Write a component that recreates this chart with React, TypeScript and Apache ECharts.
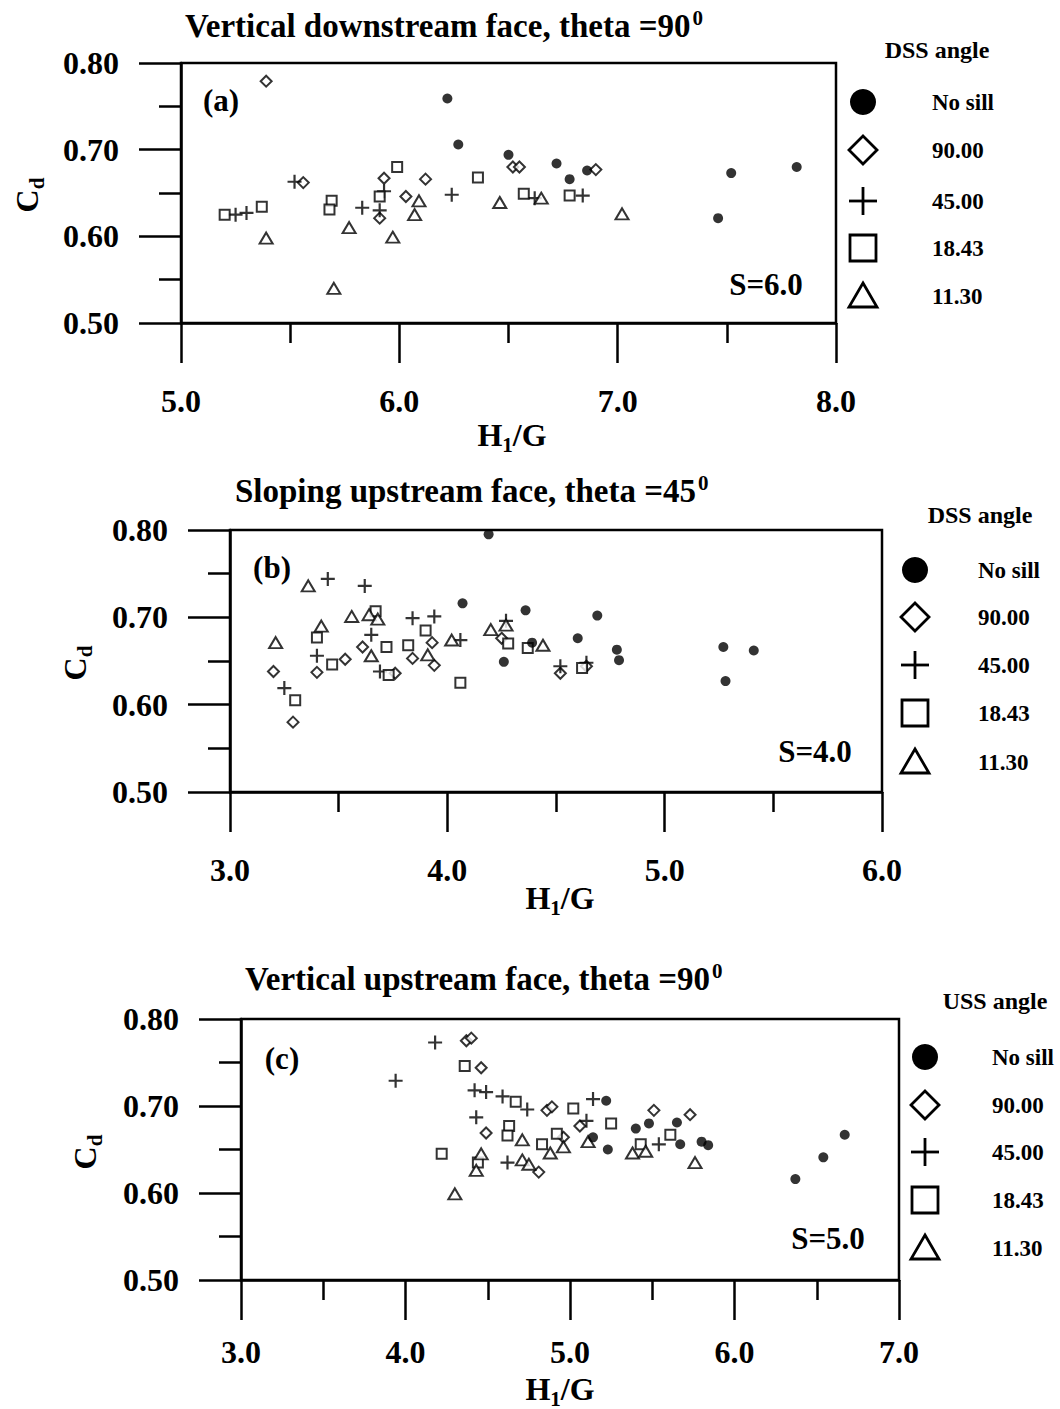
import React, { useEffect, useRef } from "react";
import * as echarts from "echarts";

const FONT = '"Liberation Serif","Times New Roman",serif';

// Legend labels (same order for all panels)
const seriesNames = ["No sill", "90.00", "45.00", "18.43", "11.30"];

// ---------- Panel (a): Vertical downstream face, theta = 90, S = 6.0 ----------
const aNoSill = [[6.22, 0.759], [6.27, 0.706], [6.50, 0.694], [6.72, 0.684], [6.78, 0.666], [6.86, 0.676], [7.46, 0.621], [7.52, 0.673], [7.82, 0.680]];
const aD90 = [[5.39, 0.779], [5.56, 0.662], [5.93, 0.667], [5.91, 0.621], [6.03, 0.646], [6.12, 0.666], [6.52, 0.680], [6.55, 0.680], [6.90, 0.677]];
const aD45 = [[5.25, 0.625], [5.30, 0.627], [5.52, 0.663], [5.83, 0.633], [5.93, 0.652], [5.91, 0.630], [6.24, 0.648], [6.62, 0.644], [6.84, 0.647]];
const aD18 = [[5.20, 0.625], [5.37, 0.634], [5.69, 0.641], [5.68, 0.631], [5.91, 0.646], [5.99, 0.680], [6.36, 0.668], [6.57, 0.649], [6.78, 0.647]];
const aD11 = [[5.39, 0.598], [5.70, 0.540], [5.77, 0.610], [5.97, 0.599], [6.07, 0.625], [6.09, 0.641], [6.46, 0.639], [6.65, 0.644], [7.02, 0.626]];

// ---------- Panel (b): Sloping upstream face, theta = 45, S = 4.0 ----------
const bNoSill = [[4.19, 0.795], [4.07, 0.716], [4.36, 0.708], [4.26, 0.649], [4.39, 0.671], [4.60, 0.676], [4.69, 0.702], [4.78, 0.663], [4.79, 0.651], [5.27, 0.666], [5.28, 0.627], [5.41, 0.662]];
const bD90 = [[3.20, 0.638], [3.29, 0.580], [3.40, 0.637], [3.53, 0.652], [3.61, 0.666], [3.76, 0.636], [3.84, 0.653], [3.93, 0.671], [3.94, 0.645], [4.25, 0.676], [4.52, 0.636], [4.64, 0.644]];
const bD45 = [[3.25, 0.619], [3.40, 0.656], [3.45, 0.744], [3.62, 0.736], [3.65, 0.680], [3.69, 0.638], [3.84, 0.699], [3.94, 0.701], [4.06, 0.674], [4.27, 0.696], [4.52, 0.644], [4.64, 0.648]];
const bD18 = [[3.30, 0.605], [3.40, 0.677], [3.47, 0.646], [3.67, 0.707], [3.72, 0.666], [3.73, 0.634], [3.82, 0.668], [3.90, 0.685], [4.06, 0.625], [4.28, 0.670], [4.37, 0.665], [4.62, 0.642]];
const bD11 = [[3.21, 0.671], [3.36, 0.736], [3.42, 0.690], [3.56, 0.701], [3.64, 0.703], [3.68, 0.698], [3.65, 0.656], [3.91, 0.657], [4.02, 0.674], [4.20, 0.686], [4.27, 0.691], [4.44, 0.668]];

// ---------- Panel (c): Vertical upstream face, theta = 90, S = 5.0 ----------
const cNoSill = [[5.22, 0.706], [5.14, 0.664], [5.23, 0.650], [5.40, 0.674], [5.48, 0.680], [5.65, 0.681], [5.67, 0.656], [5.80, 0.659], [5.84, 0.655], [6.37, 0.616], [6.54, 0.641], [6.67, 0.667]];
const cD90 = [[4.37, 0.775], [4.40, 0.778], [4.46, 0.744], [4.49, 0.669], [4.81, 0.624], [4.86, 0.695], [4.89, 0.699], [4.96, 0.664], [5.06, 0.677], [5.51, 0.695], [5.73, 0.690]];
const cD45 = [[3.94, 0.729], [4.18, 0.773], [4.42, 0.718], [4.49, 0.716], [4.59, 0.711], [4.74, 0.696], [4.43, 0.687], [4.62, 0.635], [5.10, 0.683], [5.14, 0.708], [5.54, 0.656]];
const cD18 = [[4.22, 0.645], [4.36, 0.746], [4.44, 0.635], [4.67, 0.705], [4.63, 0.677], [4.62, 0.666], [4.83, 0.656], [4.92, 0.668], [5.02, 0.697], [5.25, 0.680], [5.43, 0.656], [5.61, 0.667]];
const cD11 = [[4.30, 0.599], [4.43, 0.626], [4.46, 0.645], [4.71, 0.661], [4.71, 0.638], [4.75, 0.633], [4.88, 0.646], [4.96, 0.653], [5.11, 0.659], [5.38, 0.646], [5.46, 0.648], [5.76, 0.635]];

// Axis ranges
const xMins = [5, 3, 3];
const xMaxs = [8, 6, 7];
const yMin = 0.5;
const yMax = 0.8;

const titles = [
  "Vertical downstream face, theta =90",
  "Sloping upstream face, theta =45",
  "Vertical upstream face, theta =90",
];
const panelTags = ["(a)", "(b)", "(c)"];
const sLabels = ["S=6.0", "S=4.0", "S=5.0"];
const legendHeaders = ["DSS angle", "DSS angle", "USS angle"];

const panelData = [
  [aNoSill, aD90, aD45, aD18, aD11],
  [bNoSill, bD90, bD45, bD18, bD11],
  [cNoSill, cD90, cD45, cD18, cD11],
];

const PLUS = "path://M0,7L14,7M7,0L7,14";

export default function App() {
  const ref = useRef<HTMLDivElement>(null);

  useEffect(() => {
    if (!ref.current) return;
    const chart = echarts.init(ref.current, undefined, { renderer: "svg" });

    const grids = [
      { left: 181, top: 63, width: 655, height: 260 },
      { left: 230, top: 530, width: 652, height: 262 },
      { left: 241, top: 1019, width: 658, height: 261 },
    ];
    const xLabelMargins = [62, 62, 56];
    const lineStyle = { color: "#000", width: 2.5 };
    const labelStyle = { color: "#000", fontFamily: FONT, fontWeight: "bold" as const, fontSize: 32 };

    const xAxes = grids.map((_, i) => ({
      gridIndex: i,
      type: "value",
      min: xMins[i],
      max: xMaxs[i],
      interval: 1,
      axisLine: { show: true, onZero: false, lineStyle },
      axisTick: { show: true, inside: false, length: 40, lineStyle },
      minorTick: { show: true, splitNumber: 2, length: 20, lineStyle },
      splitLine: { show: false },
      minorSplitLine: { show: false },
      axisLabel: { ...labelStyle, margin: xLabelMargins[i], formatter: (v: number) => v.toFixed(1) },
    }));
    const yAxes = grids.map((_, i) => ({
      gridIndex: i,
      type: "value",
      min: yMin,
      max: yMax,
      interval: 0.1,
      axisLine: { show: true, onZero: false, lineStyle },
      axisTick: { show: true, inside: false, length: 42, lineStyle },
      minorTick: { show: true, splitNumber: 2, length: 22, lineStyle },
      splitLine: { show: false },
      minorSplitLine: { show: false },
      axisLabel: { ...labelStyle, margin: 62, formatter: (v: number) => v.toFixed(2) },
    }));

    const hollow = { color: "#fff", borderColor: "#000", borderWidth: 2 };
    const series: any[] = [];
    panelData.forEach((sets, i) => {
      const specs = [
        { symbol: "circle", symbolSize: 10, itemStyle: { color: "#000" } },
        { symbol: "diamond", symbolSize: 11, itemStyle: hollow },
        { symbol: PLUS, symbolSize: 14, itemStyle: { color: "none", borderColor: "#000", borderWidth: 2.2 } },
        { symbol: "rect", symbolSize: 10, itemStyle: hollow },
        { symbol: "triangle", symbolSize: [13, 11], itemStyle: hollow },
      ];
      sets.forEach((d, k) => {
        series.push({
          type: "scatter",
          name: seriesNames[k],
          xAxisIndex: i,
          yAxisIndex: i,
          data: d,
          ...specs[k],
          z: k === 0 ? 3 : 2,
        });
      });
    });

    const txt = (x: number, y: number, text: string, size: number, align = "center") => ({
      type: "text",
      x,
      y,
      style: {
        text,
        fill: "#000",
        font: `bold ${size}px ${FONT}`,
        fontSize: size,
        fontWeight: "bold",
        fontFamily: FONT,
        align,
        textAlign: align,
        verticalAlign: "middle",
        textVerticalAlign: "middle",
      },
    });

    const graphics: any[] = [];
    // legends
    const legendPos = [
      { sx: 863, ys: [102, 150, 201, 248, 296], lx: 932, hx: 937, hy: 50 },
      { sx: 915, ys: [570, 617, 665, 713, 762], lx: 978, hx: 980, hy: 515 },
      { sx: 925, ys: [1057, 1105, 1152, 1200, 1248], lx: 992, hx: 995, hy: 1001 },
    ];
    const st = { stroke: "#000", lineWidth: 2.8 };
    legendPos.forEach((p, i) => {
      const { sx, ys } = p;
      graphics.push(txt(p.hx, p.hy, legendHeaders[i], 24));
      graphics.push({ type: "circle", shape: { cx: sx, cy: ys[0], r: 13 }, style: { fill: "#000" } });
      graphics.push({ type: "polygon", shape: { points: [[sx, ys[1] - 14], [sx + 14, ys[1]], [sx, ys[1] + 14], [sx - 14, ys[1]]] }, style: { fill: "#fff", ...st } });
      graphics.push({ type: "line", shape: { x1: sx - 14, y1: ys[2], x2: sx + 14, y2: ys[2] }, style: st });
      graphics.push({ type: "line", shape: { x1: sx, y1: ys[2] - 14, x2: sx, y2: ys[2] + 14 }, style: st });
      graphics.push({ type: "rect", shape: { x: sx - 13, y: ys[3] - 13, width: 26, height: 26 }, style: { fill: "#fff", ...st } });
      graphics.push({ type: "polygon", shape: { points: [[sx, ys[4] - 13], [sx + 14, ys[4] + 11], [sx - 14, ys[4] + 11]] }, style: { fill: "#fff", ...st } });
      seriesNames.forEach((n, k) => graphics.push(txt(p.lx, ys[k], n, 23, "left")));
    });
    // panel tags and S labels
    const tagPos = [[221, 100], [272, 567], [282, 1058]];
    const sPos = [[766, 284], [815, 751], [828, 1238]];
    tagPos.forEach((p, i) => graphics.push(txt(p[0], p[1], panelTags[i], 31)));
    sPos.forEach((p, i) => graphics.push(txt(p[0], p[1], sLabels[i], 31)));

    const richMain = { fontSize: 32, fontWeight: "bold", fontFamily: FONT, verticalAlign: "top", fill: "#000", color: "#000" };
    const richSub = { fontSize: 21, fontWeight: "bold", fontFamily: FONT, padding: [15, 0, 0, 0], fill: "#000", color: "#000" };
    // x axis names H1/G
    const hPos = [[512, 437], [560, 900], [560, 1391]];
    hPos.forEach((p) =>
      graphics.push({
        type: "text",
        x: p[0],
        y: p[1],
        style: {
          text: "{m|H}{s|1}{m|/G}",
          rich: { m: richMain, s: richSub },
          align: "center", textAlign: "center",
          verticalAlign: "middle", textVerticalAlign: "middle",
          fill: "#000",
        },
      })
    );
    // y axis names Cd
    const cPos = [[29, 195], [77, 663], [87, 1152]];
    cPos.forEach((p) =>
      graphics.push({
        type: "text",
        x: p[0],
        y: p[1],
        rotation: Math.PI / 2,
        style: {
          text: "{m|C}{s|d}",
          rich: { m: richMain, s: richSub },
          align: "center", textAlign: "center",
          verticalAlign: "middle", textVerticalAlign: "middle",
          fill: "#000",
        },
      })
    );

    const titlePos = [[185, 7], [235, 472], [245, 960]];
    const title = titles.map((t, i) => ({
      text: `{m|${t}}{sup|0}`,
      left: titlePos[i][0],
      top: titlePos[i][1],
      padding: 0,
      textStyle: {
        color: "#000",
        fontFamily: FONT,
        fontWeight: "bold",
        fontSize: 33,
        rich: {
          m: { fontSize: 33, fontWeight: "bold", fontFamily: FONT, color: "#000", verticalAlign: "bottom" },
          sup: { fontSize: 21, fontWeight: "bold", fontFamily: FONT, color: "#000", verticalAlign: "top", padding: [0, 0, 14, 2] },
        },
      },
    }));

    chart.setOption({
      animation: false,
      backgroundColor: "#fff",
      title,
      grid: grids.map((g) => ({ ...g, show: true, borderColor: "#000", borderWidth: 2.5, backgroundColor: "transparent" })),
      xAxis: xAxes,
      yAxis: yAxes,
      series,
      graphic: graphics,
    });

    return () => chart.dispose();
  }, []);

  return (
    <div
      ref={ref}
      style={{ position: "absolute", left: 0, top: 0, width: 1060, height: 1409, background: "#fff" }}
    />
  );
}
